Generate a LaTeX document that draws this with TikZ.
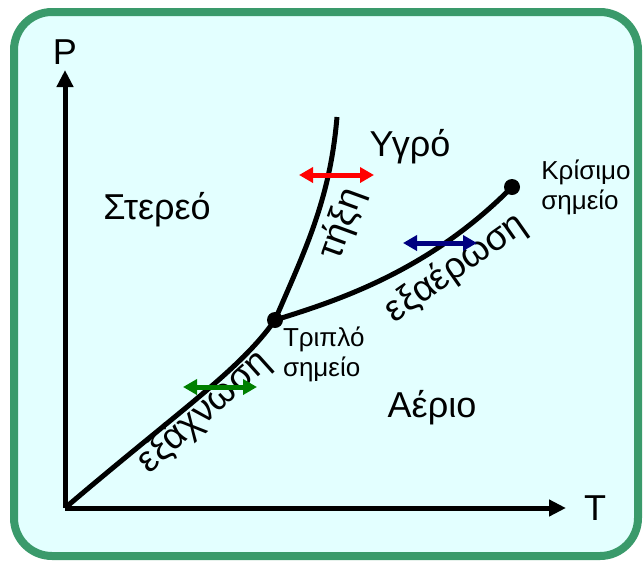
\documentclass[tikz,border=0pt]{standalone}
\usepackage{fontspec}
\setmainfont{Liberation Sans}
\usetikzlibrary{arrows.meta,positioning}
\definecolor{Frame}{HTML}{3A9A6B}
\definecolor{Paper}{HTML}{E3FFFF}
\definecolor{MeltRed}{HTML}{FF0000}
\definecolor{BoilBlue}{HTML}{000080}
\definecolor{SublGreen}{HTML}{008000}
\tikzset{
  phase/.style={font=\fontsize{36}{42}\selectfont,inner sep=0pt},
  curvelabel/.style={font=\fontsize{37}{42}\selectfont,inner sep=0pt},
  pointlabel/.style={font=\fontsize{26}{30}\selectfont,align=left,inner sep=0pt},
  axis/.style={draw=black,line width=5pt,-{Triangle[length=17pt,width=16pt]}},
  phaseline/.style={draw=black,line width=5pt},
  pointdot/.style={circle,fill=black,inner sep=0pt,minimum size=16pt},
  equil/.style={line width=5pt,{Triangle[length=14pt,width=15pt]}-{Triangle[length=14pt,width=15pt]}}
}
\begin{document}
\begin{tikzpicture}[x=1pt,y=-1pt]
  \useasboundingbox (0,0) rectangle (643,560);
  \draw[draw=Frame,fill=Paper,line width=8pt,rounded corners=38pt] (14,12) rectangle (638,556);
  % axes
  \coordinate (origin) at (65,508);
  \coordinate (ptop) at (65,70);
  \coordinate (tend) at (566,508);
  \draw[axis] (origin) -- (ptop);
  \draw[axis] (origin) -- (tend);
  \node[phase,above=5pt of ptop] (plabel) {P};
  \node[phase,right=18pt of tend] (tlabel) {T};
  % phase boundaries
  \node[pointdot] (triple) at (275,320) {};
  \node[pointdot] (crit) at (512,187) {};
  \coordinate (meltend) at (337,117);
  \draw[phaseline] (origin) .. controls (180,410) and (240,370) .. (triple.center);
  \draw[phaseline] (triple.center) .. controls (305,250) and (330,200) .. (meltend);
  \draw[phaseline] (triple.center) .. controls (340,300) and (430,270) .. (crit.center);
  % phases
  \node[phase] (solid) at (157,210) {Στερεό};
  \node[phase] (liquid) at (410,147) {Υγρό};
  \node[phase] (gas) at (432,408) {Αέριο};
  \node[curvelabel,rotate=70] (meltlabel) at (342,224) {τήξη};
  \node[curvelabel,rotate=35] (boillabel) at (456,268) {εξαέρωση};
  \node[curvelabel,rotate=42] (subllabel) at (204,412) {εξάχνωση};
  \node[pointlabel,right=21pt of crit] (critlabel) {Κρίσιμο\\σημείο};
  \node[pointlabel,below right=1pt and 2pt of triple] (triplelabel) {Τριπλό\\σημείο};
  % transitions
  \coordinate (meltL) at (299,175);
  \coordinate (meltR) at (374,175);
  \coordinate (boilL) at (403,243);
  \coordinate (boilR) at (477,243);
  \coordinate (sublL) at (183,387);
  \coordinate (sublR) at (257,387);
  \draw[equil,MeltRed] (meltL) -- (meltR);
  \draw[equil,BoilBlue] (boilL) -- (boilR);
  \draw[equil,SublGreen] (sublL) -- (sublR);
\end{tikzpicture}
\end{document}
